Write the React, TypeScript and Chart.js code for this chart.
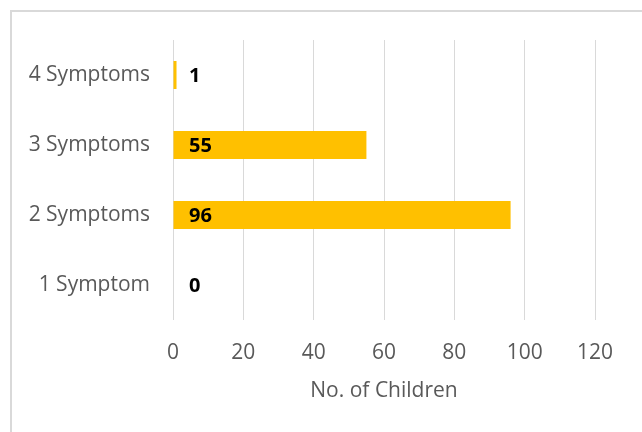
import React, { useEffect, useRef } from "react";
import { Chart, registerables } from "chart.js";

Chart.register(...registerables);

const categories = ["1 Symptom", "2 Symptoms", "3 Symptoms", "4 Symptoms"];
const childrenCounts = [0, 96, 55, 1];
const xTicks = [0, 20, 40, 60, 80, 100, 120];
const xTitle = "No. of Children";

const FONT = "'Open Sans', sans-serif";

const framePlugin = {
  id: "frame",
  beforeDraw(chart: any) {
    const ctx = chart.ctx;
    ctx.save();
    ctx.fillStyle = "#ffffff";
    ctx.fillRect(0, 0, chart.width, chart.height);
    ctx.strokeStyle = "#d9d9d9";
    ctx.lineWidth = 2;
    ctx.strokeRect(11, 11, chart.width + 40, chart.height + 40);
    ctx.restore();
  },
};

const labelPlugin = {
  id: "baseLabels",
  afterDatasetsDraw(chart: any) {
    const ctx = chart.ctx;
    const meta = chart.getDatasetMeta(0);
    const x0 = chart.scales.x.getPixelForValue(0);
    ctx.save();
    ctx.font = `bold 20px ${FONT}`;
    ctx.fillStyle = "#000000";
    ctx.textAlign = "left";
    ctx.textBaseline = "middle";
    meta.data.forEach((bar: any, i: number) => {
      ctx.fillText(String(chart.data.datasets[0].data[i]), x0 + 16, bar.y + 1);
    });
    ctx.restore();
  },
};

export default function App() {
  const ref = useRef<HTMLCanvasElement | null>(null);
  useEffect(() => {
    if (!ref.current) return;
    const chart = new Chart(ref.current, {
      type: "bar",
      data: {
        labels: categories,
        datasets: [
          {
            data: childrenCounts,
            backgroundColor: "#FFC000",
            borderWidth: 0,
            barPercentage: 0.4,
            categoryPercentage: 1,
          },
        ],
      },
      options: {
        indexAxis: "y",
        animation: false,
        responsive: false,
        maintainAspectRatio: false,
        layout: { padding: { top: 40, right: 47, left: 0, bottom: 0 } },
        plugins: { legend: { display: false }, tooltip: { enabled: false } },
        scales: {
          x: {
            min: 0,
            max: 120,
            afterBuildTicks: (scale: any) => {
              scale.ticks = xTicks.map((v) => ({ value: v }));
            },
            afterFit: (scale: any) => {
              scale.height = 112;
            },
            grid: { color: "#d9d9d9", lineWidth: 1, drawTicks: false },
            border: { display: false },
            ticks: {
              color: "#595959",
              font: { family: FONT, size: 21 },
              padding: 20,
            },
            title: {
              display: true,
              text: xTitle,
              color: "#595959",
              font: { family: FONT, size: 21 },
              padding: { top: 0, bottom: 28 },
            },
          },
          y: {
            reverse: true,
            afterFit: (scale: any) => {
              scale.width = 173;
            },
            grid: { display: false, drawTicks: false },
            border: { display: false },
            ticks: {
              color: "#595959",
              font: { family: FONT, size: 21 },
              padding: 23,
            },
          },
        },
      },
      plugins: [framePlugin, labelPlugin],
    });
    return () => chart.destroy();
  }, []);
  return (
    <div style={{ position: "fixed", left: 0, top: 0, width: 642, height: 432 }}>
      <canvas ref={ref} width={642} height={432} style={{ width: 642, height: 432 }} />
    </div>
  );
}
